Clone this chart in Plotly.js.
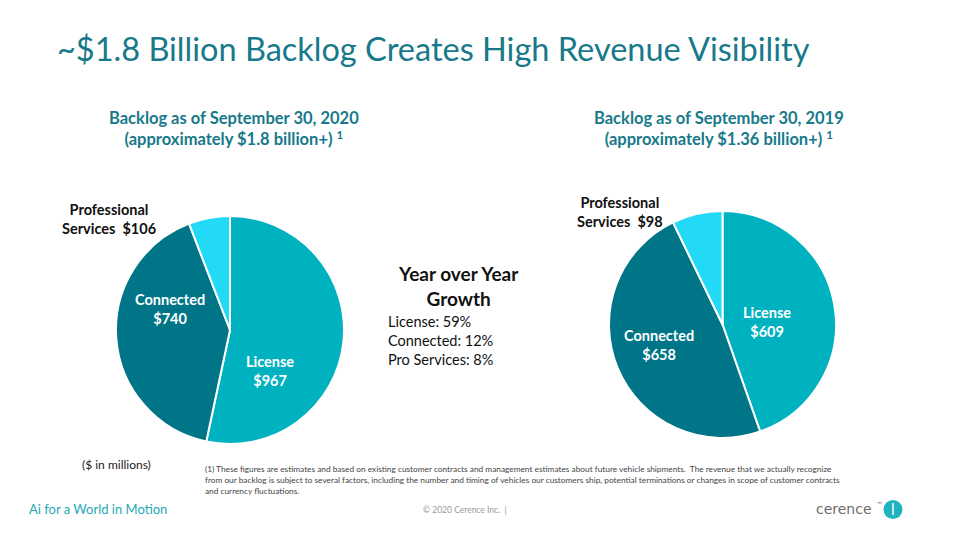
<!DOCTYPE html>
<html>
<head>
<meta charset="utf-8">
<script src="https://cdn.plot.ly/plotly-3.0.1.min.js"></script>
<style>html,body{margin:0;padding:0;background:#fff;}#chart{width:960px;height:540px;}</style>
</head>
<body>
<div id="chart"></div>
<script>
const categories = ["License", "Connected", "Professional Services"];
const values2020 = [967, 740, 106];
const values2019 = [609, 658, 98];
const growthLabels = ["License", "Connected", "Pro Services"];
const growthPct = [59, 12, 8];
const sliceColors = ["#00B2BF", "#007587", "#22DAF6"];

const W = 960, H = 540;
const px = x => x / W;
const py = y => 1 - y / H;
const FONT = "Lato";
const TEAL = "#17798a";

function pieTrace(values, x0, x1, y0, y1) {
  return {
    type: "pie",
    labels: categories,
    values: values,
    sort: false,
    direction: "clockwise",
    rotation: 0,
    textinfo: "none",
    hoverinfo: "label+value",
    marker: {colors: sliceColors, line: {color: "#ffffff", width: 2}},
    domain: {x: [px(x0), px(x1)], y: [py(y1), py(y0)]},
    showlegend: false
  };
}

const data = [
  pieTrace(values2020, 116, 344, 216, 444),
  pieTrace(values2019, 609, 836, 211, 438)
];

function sliceLabel(i, vals) {
  return "<b>" + categories[i] + "<br>$" + vals[i] + "</b>";
}
function proLabel(vals) {
  return "<b>Professional<br>Services  $" + vals[2] + "</b>";
}

const ann = [];
function txt(x, y, text, size, color, opts) {
  ann.push(Object.assign({
    xref: "paper", yref: "paper", x: px(x), y: py(y), text: text,
    showarrow: false, font: {family: FONT, size: size, color: color, weight: "normal"},
    xanchor: "center", yanchor: "middle"
  }, opts || {}));
}

// Title
txt(55, 48, "~$1.8 Billion Backlog Creates High Revenue Visibility", 32.5, TEAL, {xanchor: "left"});

// Subtitles
txt(234, 128, "<b>Backlog as of September 30, 2020<br>(approximately $1.8 billion+) <sup>1</sup></b>", 16.5, TEAL);
txt(719, 128, "<b>Backlog as of September 30, 2019<br>(approximately $1.36 billion+) <sup>1</sup></b>", 16.5, TEAL);

// Pie labels 2020
txt(270, 371, sliceLabel(0, values2020), 14.5, "#ffffff");
txt(170, 309, sliceLabel(1, values2020), 14.5, "#ffffff");
txt(109, 219, proLabel(values2020), 14.5, "#111111");

// Pie labels 2019
txt(767, 322, sliceLabel(0, values2019), 14.5, "#ffffff");
txt(659, 345, sliceLabel(1, values2019), 14.5, "#ffffff");
txt(620, 212, proLabel(values2019), 14.5, "#111111");

// Growth box
txt(458, 286, "<b>Year over Year<br>Growth</b>", 19, "#111111");
const growthText = growthLabels.map((l, i) => l + ": " + growthPct[i] + "%").join("<br>");
txt(386, 340, growthText, 14.5, "#111111", {xanchor: "left", align: "left"});

// Footer texts
txt(80, 464, "($ in millions)", 12, "#222222", {xanchor: "left"});
txt(203, 480, "(1) These figures are estimates and based on existing customer contracts and management estimates about future vehicle shipments.  The revenue that we actually recognize<br>from our backlog is subject to several factors, including the number and timing of vehicles our customers ship, potential terminations or changes in scope of customer contracts<br>and currency fluctuations.", 8.3, "#444444", {xanchor: "left", align: "left"});
txt(27, 509, "Ai for a World in Motion", 13, "#1fa9b8", {xanchor: "left"});
txt(465, 510, "© 2020 Cerence Inc.  |", 8.5, "#9a9a9a");
txt(874, 509, "cerence", 14, "#6d6d6d", {xanchor: "right", font: {family: "DejaVu Sans", size: 14, color: "#6d6d6d"}});
txt(875, 503, "™", 6, "#6d6d6d", {xanchor: "left"});

const layout = {
  width: W, height: H,
  margin: {l: 0, r: 0, t: 0, b: 0},
  paper_bgcolor: "#ffffff",
  plot_bgcolor: "#ffffff",
  font: {family: FONT},
  annotations: ann,
  shapes: [
    {type: "circle", xref: "paper", yref: "paper", x0: px(883.5), x1: px(902.5), y0: py(519), y1: py(500), fillcolor: "#1fb3c0", line: {width: 0}},
    {type: "line", xref: "paper", yref: "paper", x0: px(893), x1: px(893), y0: py(515), y1: py(503), line: {color: "#ffffff", width: 1.5}}
  ]
};

Plotly.newPlot("chart", data, layout, {displayModeBar: false, staticPlot: true});
</script>
</body>
</html>
